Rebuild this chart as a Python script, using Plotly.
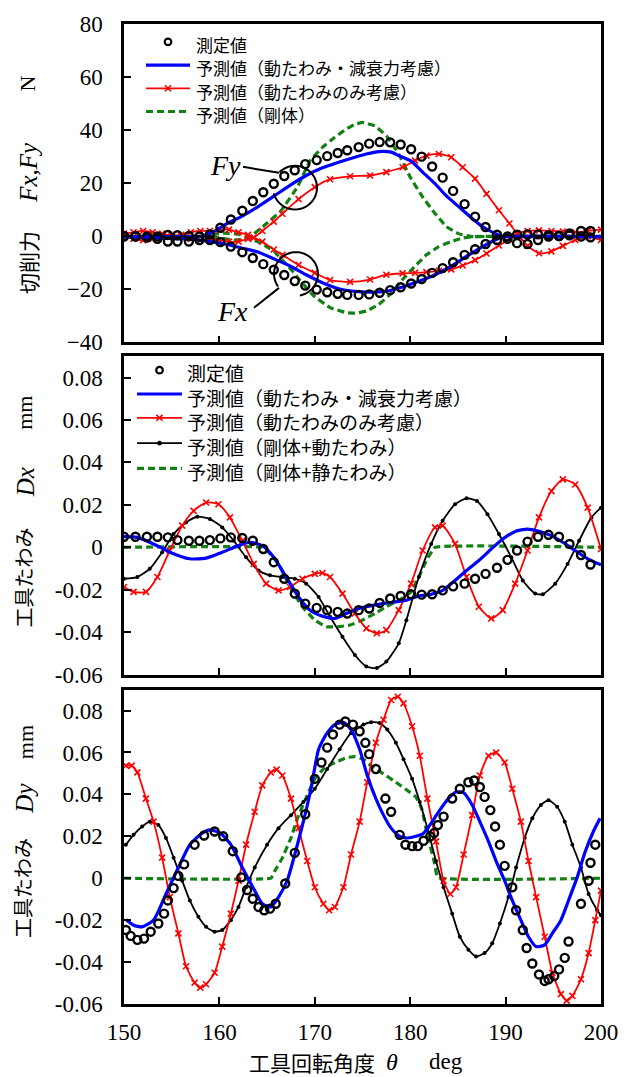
import math
import plotly.graph_objects as go

# ---------------- data: panel 1 (cutting force, N) ----------------
theta_meas_F = [150.0,151.2,152.4,153.5,154.6,155.6,156.8,157.9,159.0,160.1,161.2,162.4,163.5,164.6,165.7,
                166.8,167.9,169.0,170.2,171.3,172.4,173.4,174.6,175.7,176.8,177.9,179.0,180.1,181.2,182.3,
                183.4,184.5,185.7,186.8,187.9,189.1,190.2,191.2,192.3,193.4,194.5,195.6,196.7,197.9,198.9]
Fy_meas = [0.1,0.1,-0.1,-0.1,0.5,0.4,0.1,-0.1,0.7,3.2,6.3,9.6,13.3,16.6,19.8,22.7,24.9,27.2,28.7,30.2,
           31.4,32.4,33.6,34.9,35.5,35.4,34.6,32.8,30.0,26.3,22.1,17.1,12.1,7.4,3.5,0.6,-0.1,0.6,0.7,0.7,
           0.4,0.1,1.1,2.0,2.0]
Fx_meas = [-0.1,-0.1,-0.5,-1.0,-2.0,-2.0,-2.0,-1.4,-1.4,-2.2,-3.9,-6.0,-8.2,-10.5,-12.6,-14.6,-16.9,-18.6,
           -20.1,-21.1,-21.7,-22.1,-22.1,-21.9,-21.3,-20.3,-19.2,-17.8,-16.1,-13.8,-12.0,-9.8,-7.0,-4.9,-2.9,
           -1.4,-1.0,-2.6,-2.9,-1.4,-0.1,0.1,0.4,-0.1,-0.4]

theta_blue_Fy = [150,154.0,158.2,159.4,160.7,162.4,164.1,165.7,167.4,169.1,170.8,172.5,174.2,175.4,176.7,
                 178.0,178.8,180.1,181.3,182.6,183.8,185.1,186.4,187.6,188.9,189.7,191.8,200]
Fy_blue = [-0.1,-0.1,0.1,1.7,4.6,7.6,11.3,15.1,19.2,22.9,25.8,27.9,29.8,31.0,31.9,31.7,30.4,28.3,24.2,19.8,
           15.2,11.1,7.0,3.6,1.1,-0.1,-0.1,-0.1]
theta_blue_Fx = [150,154.0,157.3,159.0,160.7,162.4,164.1,165.7,167.4,169.1,170.8,172.5,174.2,175.8,177.5,
                 179.2,180.9,182.6,184.3,185.9,187.6,189.3,190.2,200]
Fx_blue = [-0.1,-0.7,-1.2,-2.0,-3.0,-4.5,-6.0,-8.5,-11.2,-14.5,-17.5,-19.8,-20.8,-21.1,-20.7,-19.1,-17.0,
           -14.5,-11.3,-7.6,-3.9,-0.7,-0.1,-0.1]

theta_red_F = [150,151,152,153,154,155,156,157,158,159,160,161,162,163,163.6,164.5,165.7,166.6,168.3,170.0,
               171.6,173.7,175.8,177.5,179.2,180.5,181.7,183.0,184.3,185.5,186.8,188.0,189.3,190.4,191.2,
               192.3,193.5,194.8,196.0,197.3,198.6,200]
Fy_red = [0.5,-1,-1.5,-1,0,0.5,0,-1,-1.5,-1,-1.5,-2,-2,-1,-0.5,2,5.5,8.5,14,18.5,21.5,22.6,22.9,24.2,26,28.5,
          30.4,31,29.8,26,21.7,16,9.8,4.8,1.1,-3.6,-6.4,-5.7,-3.6,-1.4,-0.1,-1.4]
Fx_red = [1,1.5,2,1.5,1,0,0.5,1.5,2,2,2.5,2.5,1.5,0.5,-0.5,-2,-5,-7,-10.8,-13.8,-16.5,-17.2,-16.3,-14.5,-14,
          -13.8,-13.5,-13,-12.5,-11,-9,-6.5,-3.5,-1,1,2,2.2,2,1.8,1.5,2,2.5]

theta_green_Fy = [150,158,160,161.5,163,164,165,166.4,168.2,169.5,170.8,172.1,173.3,174.2,175.0,176.3,177.5,
                  178.8,180.0,181.3,182.6,183.8,185.1,186.4,190,200]
Fy_green = [0,0,-0.5,-1.5,-0.6,2,5,9.3,18.7,28.5,33.5,37.3,40.4,42.2,42.9,41.6,37.9,31,22.3,14.8,8.6,3.6,0.9,
            -0.1,0,0]
theta_green_Fx = [150,158,160.5,162,163,164,165,165.7,166.6,167.8,168.3,169.9,171.6,173.3,174.2,175.4,176.7,
                  177.9,179.2,180.5,181.7,183.0,184.3,185.5,186.8,200]
Fx_green = [0,0,1.2,0.8,-0.6,-2,-4,-5.6,-9,-13.7,-16,-22.5,-26.9,-28.8,-29,-28.2,-25.7,-21.9,-16.3,-11.3,-7,
            -3.9,-2,-0.7,-0.1,0]

# ---------------- data: panel 2 (tool deflection Dx, mm) ----------------
theta_meas_Dx = theta_meas_F
Dx_meas = [0.0050,0.0050,0.0050,0.0050,0.0047,0.0034,0.0031,0.0031,0.0034,0.0042,0.0047,0.0044,0.0031,-0.0008,
           -0.0070,-0.0148,-0.0218,-0.0265,-0.0285,-0.0296,-0.0304,-0.0312,-0.0296,-0.0288,-0.0262,-0.0241,
           -0.0229,-0.0221,-0.0223,-0.0221,-0.0203,-0.0184,-0.0171,-0.0148,-0.0125,-0.0096,-0.0059,-0.0015,
           0.0027,0.0050,0.0059,0.0050,0.0016,-0.0036,-0.0081]
theta_blue_Dx = [150,151.4,153.1,154.8,156.9,158.6,160.3,162.0,163.2,164.5,165.7,167.0,168.3,169.5,170.8,
                 172.1,173.3,174.6,175.8,177.1,178.4,179.6,180.9,182.2,183.4,184.7,185.9,187.2,188.5,189.7,
                 191.0,192.3,193.5,194.8,196.0,197.3,198.6,200]
Dx_blue = [0.0050,0.0047,0.0016,-0.0023,-0.0054,-0.0051,-0.0023,0.0008,0.0024,0.0008,-0.0047,-0.0140,-0.0234,
           -0.0296,-0.0324,-0.0335,-0.0312,-0.0288,-0.0276,-0.0265,-0.0257,-0.0249,-0.0229,-0.0221,-0.0203,
           -0.0156,-0.0109,-0.0062,-0.0008,0.0039,0.0075,0.0086,0.0075,0.0055,0.0024,-0.0015,-0.0054,-0.0082]
theta_red_Dx = [150,151.0,152.3,153.5,154.8,156.1,157.3,158.6,159.9,161.1,162.4,163.6,164.9,166.2,167.4,
                168.7,170.0,170.8,171.6,172.9,174.2,175.4,176.5,177.5,178.8,180.1,181.3,182.6,183.4,184.7,
                185.9,187.2,188.5,189.7,191.0,192.3,193.5,194.8,196.0,197.3,198.6,200]
Dx_red = [-0.0187,-0.0210,-0.0210,-0.0140,-0.0015,0.0102,0.0172,0.0211,0.0203,0.0141,0.0031,-0.0078,-0.0171,
          -0.0203,-0.0187,-0.0148,-0.0125,-0.0121,-0.0140,-0.0218,-0.0312,-0.0382,-0.0405,-0.0390,-0.0296,
          -0.0171,-0.0015,0.0094,0.0102,0.0016,-0.0140,-0.0280,-0.0335,-0.0296,-0.0171,-0.0015,0.0141,0.0265,
          0.0320,0.0296,0.0187,-0.0008]
theta_black_Dx = [150,151.4,152.7,154.0,155.2,156.5,157.7,159.0,160.3,161.5,162.8,164.1,165.3,166.6,167.9,
                  169.1,170.4,171.6,172.9,174.2,175.4,176.5,177.5,178.8,179.6,180.9,182.2,183.4,184.7,185.9,
                  187.0,188.1,189.3,190.6,191.8,193.1,193.9,195.2,196.5,197.7,199.0,200]
Dx_black = [-0.0148,-0.0140,-0.0101,-0.0023,0.0063,0.0117,0.0144,0.0133,0.0094,0.0031,-0.0047,-0.0109,-0.0132,
            -0.0140,-0.0148,-0.0171,-0.0234,-0.0327,-0.0421,-0.0507,-0.0561,-0.0569,-0.0538,-0.0452,-0.0343,
            -0.0140,0.0016,0.0125,0.0203,0.0231,0.0218,0.0156,0.0063,-0.0047,-0.0156,-0.0218,-0.0221,-0.0171,
            -0.0078,0.0031,0.0141,0.0187]
theta_green_Dx = [150,164.5,165.3,166.2,167.4,168.7,170.0,171.2,172.5,173.7,175.0,176.3,177.5,178.8,180.1,
                  180.9,181.7,182.6,200]
Dx_green = [0,0,-0.0030,-0.0078,-0.0187,-0.0280,-0.0343,-0.0374,-0.0374,-0.0366,-0.0343,-0.0312,-0.0280,
            -0.0249,-0.0210,-0.0140,-0.0062,0,0]

# ---------------- data: panel 3 (tool deflection Dy, mm) ----------------
theta_meas_Dy = [150.2,150.7,151.4,152.1,152.8,153.6,154.2,154.6,155.2,155.7,156.3,157.4,158.4,159.5,160.4,
                 161.4,162.3,162.9,163.5,164.1,164.7,165.3,165.9,166.9,167.9,169.0,170.0,170.7,171.3,171.9,
                 172.6,173.2,174.0,174.7,175.3,175.7,176.4,177.4,178.0,178.9,179.5,180.2,180.8,181.4,182.1,
                 182.5,182.9,183.5,184.4,185.2,186.1,186.7,187.3,187.8,188.4,188.9,189.4,189.9,190.7,191.1,
                 191.8,192.2,192.8,193.5,194.1,194.5,195.1,195.6,196.2,196.6,197.9,198.7,198.9,199.4]
Dy_meas = [-0.0247,-0.0275,-0.0294,-0.0288,-0.0255,-0.0216,-0.0169,-0.0106,-0.0047,0.0011,0.0066,0.016,0.0204,
           0.0223,0.0200,0.0129,0.0004,-0.0056,-0.0098,-0.0137,-0.0153,-0.0145,-0.0122,-0.0025,0.0121,0.0305,
           0.0474,0.0552,0.0623,0.0686,0.0733,0.0748,0.0733,0.0701,0.0646,0.0592,0.0521,0.038,0.0317,0.0207,
           0.016,0.0153,0.0153,0.0179,0.02,0.0215,0.0254,0.0294,0.038,0.0427,0.0458,0.0466,0.0435,0.0388,
           0.0325,0.0247,0.016,0.0059,-0.0043,-0.0153,-0.0247,-0.0333,-0.0407,-0.0459,-0.049,-0.0482,-0.0467,
           -0.0435,-0.038,-0.0302,-0.0122,-0.0012,0.0074,0.016]
theta_blue_Dy = [150.2,151.0,151.9,153.1,154.4,155.7,156.9,158.2,159.0,160.1,161.2,162.4,163.7,164.5,165.4,
                 166.2,167.1,167.9,168.8,169.6,170.4,171.3,172.1,173.0,173.8,174.7,175.5,176.4,177.2,178.0,
                 178.9,179.7,180.6,181.4,182.3,183.1,184.0,184.8,185.6,186.5,187.3,188.2,189.0,189.9,190.7,
                 191.6,192.4,193.2,194.1,194.9,195.8,196.6,197.5,198.3,199.2,199.9]
Dy_blue = [-0.0197,-0.0224,-0.0232,-0.0200,-0.0075,0.0051,0.016,0.0215,0.0231,0.0215,0.016,0.0051,-0.0059,
           -0.0122,-0.0137,-0.0090,-0.0012,0.0113,0.027,0.0427,0.0615,0.0693,0.0733,0.0744,0.0709,0.0615,
           0.049,0.038,0.0301,0.0239,0.02,0.0192,0.02,0.0215,0.027,0.0325,0.038,0.0411,0.0408,0.0349,0.027,
           0.0176,0.0082,-0.0012,-0.0106,-0.02,-0.0279,-0.0326,-0.0318,-0.0263,-0.02,-0.0106,0.0004,0.0121,
           0.0223,0.0286]
theta_red_Dy = [150.2,150.8,151.4,152.3,153.1,154.0,154.8,155.7,156.5,157.4,158.0,158.6,159.5,160.3,161.2,
                162.0,162.8,163.7,164.5,165.4,166.0,166.6,167.5,168.3,169.2,170.0,170.9,171.5,172.1,173.0,
                173.8,174.7,175.5,176.4,177.2,178.0,178.7,179.3,180.2,181.0,181.8,182.7,183.5,184.2,184.8,
                185.6,186.5,187.3,188.2,189.0,189.9,190.7,191.6,192.4,193.2,194.1,194.9,195.8,196.4,197.0,
                197.9,198.7,199.4,200]
Dy_red = [0.0537,0.0537,0.0505,0.038,0.027,0.0098,-0.0090,-0.0263,-0.042,-0.0498,-0.0522,-0.0506,-0.0451,
          -0.0326,-0.0169,-0.0012,0.016,0.0317,0.0443,0.0505,0.0518,0.049,0.038,0.0239,0.0082,-0.0043,-0.0122,
          -0.0153,-0.0137,-0.0043,0.0113,0.027,0.0458,0.0646,0.0756,0.085,0.0866,0.0834,0.0725,0.0584,0.038,
          0.0176,-0.0012,-0.0075,-0.0043,0.0113,0.0301,0.049,0.0584,0.0599,0.0552,0.0427,0.027,0.0082,-0.009,
          -0.0279,-0.0451,-0.0553,-0.0584,-0.0561,-0.0482,-0.0357,-0.02,-0.0059]
theta_black_Dy = [150.2,151.0,151.9,152.7,153.6,154.4,155.2,156.1,156.9,157.8,158.6,159.5,160.3,161.2,162.0,
                  162.8,163.7,165.0,166.2,167.5,168.8,170.0,171.3,172.6,173.8,175.1,175.9,176.8,177.6,178.5,
                  179.3,180.2,181.0,181.8,182.7,183.5,184.4,185.2,186.1,186.9,187.8,188.6,189.4,190.3,191.1,
                  192.0,192.8,193.7,194.5,195.4,196.2,197.0,197.9,198.7,199.6,200]
Dy_black = [0.016,0.0207,0.0247,0.027,0.0254,0.0192,0.0098,-0.0012,-0.0106,-0.0184,-0.0232,-0.0255,-0.0247,
            -0.02,-0.0137,-0.0043,0.0051,0.016,0.0239,0.0301,0.0364,0.0427,0.0521,0.0615,0.0693,0.0733,0.0744,
            0.074,0.0709,0.0646,0.0568,0.0474,0.0364,0.0239,0.0082,-0.0043,-0.0169,-0.0279,-0.0341,-0.0373,
            -0.0357,-0.031,-0.0216,-0.009,0.0051,0.0192,0.0286,0.0349,0.0372,0.0341,0.027,0.016,0.0051,-0.0075,
            -0.0153,-0.0177]
theta_green_Dy = [150,165.4,165.8,166.6,167.5,168.3,169.2,170.0,170.9,172.1,173.4,174.2,175.1,175.9,177.2,
                  178.5,179.7,180.6,181.2,181.8,182.5,182.9,200]
Dy_green = [0,0,0.0034,0.0097,0.0192,0.0301,0.0395,0.0474,0.0521,0.0552,0.0576,0.058,0.0568,0.0537,0.0498,
            0.0458,0.0419,0.0388,0.0333,0.0207,0.0082,0.0003,0]

x_ticks = [150, 160, 170, 180, 190, 200]
F_ticks = [-40, -20, 0, 20, 40, 60, 80]
D_ticks = [-0.06, -0.04, -0.02, 0, 0.02, 0.04, 0.06, 0.08]
D_tick_text = ["-0.06", "-0.04", "-0.02", "0", "0.02", "0.04", "0.06", "0.08"]

lbl_meas = "測定値"
lbl_blue = "予測値（動たわみ・減衰力考慮）"
lbl_red = "予測値（動たわみのみ考慮）"
lbl_green1 = "予測値（剛体）"
lbl_black = "予測値（剛体+動たわみ）"
lbl_green2 = "予測値（剛体+静たわみ）"

# ---------------- styling ----------------
BLUE = "#0000ff"
RED = "#ff0000"
GREEN = "#138013"
BLACK = "#000000"
SERIF = "Liberation Serif"
JP = "Noto Sans CJK JP"
GDASH = "7px,4px"

fig = go.Figure()


def circ(xs, ys, ax, name):
    fig.add_trace(go.Scatter(x=xs, y=ys, mode="markers", name=name, showlegend=False,
                             xaxis="x" + ax, yaxis="y" + ax,
                             marker=dict(symbol="circle-open", size=8, color=BLACK, line=dict(width=2.4))))


def blue(xs, ys, ax, name):
    fig.add_trace(go.Scatter(x=xs, y=ys, mode="lines", name=name, showlegend=False,
                             xaxis="x" + ax, yaxis="y" + ax,
                             line=dict(color=BLUE, width=3.2, shape="spline", smoothing=0.6)))


def red(xs, ys, ax, name):
    fig.add_trace(go.Scatter(x=xs, y=ys, mode="lines+markers", name=name, showlegend=False,
                             xaxis="x" + ax, yaxis="y" + ax,
                             line=dict(color=RED, width=1.8, shape="spline", smoothing=0.6),
                             marker=dict(symbol="x-thin", size=6, color=RED, line=dict(width=1.6, color=RED))))


def black(xs, ys, ax, name):
    fig.add_trace(go.Scatter(x=xs, y=ys, mode="lines+markers", name=name, showlegend=False,
                             xaxis="x" + ax, yaxis="y" + ax,
                             line=dict(color=BLACK, width=1.8, shape="spline", smoothing=0.6),
                             marker=dict(symbol="circle", size=4, color=BLACK)))


def green(xs, ys, ax, name):
    fig.add_trace(go.Scatter(x=xs, y=ys, mode="lines", name=name, showlegend=False,
                             xaxis="x" + ax, yaxis="y" + ax,
                             line=dict(color=GREEN, width=3.2, dash=GDASH, shape="spline", smoothing=0.25)))


# panel 1
green(theta_green_Fy, Fy_green, "", lbl_green1)
green(theta_green_Fx, Fx_green, "", lbl_green1)
red(theta_red_F, Fy_red, "", lbl_red)
red(theta_red_F, Fx_red, "", lbl_red)
blue(theta_blue_Fy, Fy_blue, "", lbl_blue)
blue(theta_blue_Fx, Fx_blue, "", lbl_blue)
circ(theta_meas_F, Fy_meas, "", lbl_meas)
circ(theta_meas_F, Fx_meas, "", lbl_meas)

# panel 2
green(theta_green_Dx, Dx_green, "2", lbl_green2)
black(theta_black_Dx, Dx_black, "2", lbl_black)
red(theta_red_Dx, Dx_red, "2", lbl_red)
blue(theta_blue_Dx, Dx_blue, "2", lbl_blue)
circ(theta_meas_Dx, Dx_meas, "2", lbl_meas)

# panel 3
green(theta_green_Dy, Dy_green, "3", lbl_green2)
black(theta_black_Dy, Dy_black, "3", lbl_black)
red(theta_red_Dy, Dy_red, "3", lbl_red)
blue(theta_blue_Dy, Dy_blue, "3", lbl_blue)
circ(theta_meas_Dy, Dy_meas, "3", lbl_meas)

# ---------------- layout ----------------
W, H = 633, 1077
L, R, T, B = 124, 32, 16, 73
PW, PH = W - L - R, H - T - B


def py(p):  # pixel y -> paper y
    return (H - B - p) / PH


def px(p):
    return (p - L) / PW


tickfont = dict(family=SERIF, size=23, color=BLACK)
axis_common = dict(showline=True, linewidth=2.5, linecolor=BLACK, mirror=True, ticks="inside", ticklen=7,
                   tickwidth=2, tickcolor=BLACK, showgrid=False, zeroline=False, tickfont=tickfont)

xax = dict(range=[150, 200], tickvals=x_ticks, **axis_common)
fig.update_layout(
    width=W, height=H, margin=dict(l=L, r=R, t=T, b=B), paper_bgcolor="white", plot_bgcolor="white",
    font=dict(family=JP, color=BLACK), showlegend=False,
    xaxis=dict(anchor="y", showticklabels=False, **xax),
    xaxis2=dict(anchor="y2", matches="x", showticklabels=False, **xax),
    xaxis3=dict(anchor="y3", matches="x", ticklabelstandoff=6, **xax),
    yaxis=dict(domain=[py(337), 1.0], range=[-40, 80], tickvals=F_ticks, ticklabelstandoff=14, **axis_common),
    yaxis2=dict(domain=[py(672), py(351)], range=[-0.06, 0.09], tickvals=D_ticks, ticktext=D_tick_text,
                ticklabelstandoff=14, **axis_common),
    yaxis3=dict(domain=[0, py(687)], range=[-0.06, 0.09], tickvals=D_ticks, ticktext=D_tick_text,
                ticklabelstandoff=14, **axis_common),
)

ann = []
shapes = []


def text(x, y, s, size, family=JP, angle=0, italic=False, anchor="center", align="center"):
    if italic:
        s = "<i>" + s + "</i>"
    ann.append(dict(x=px(x), y=py(y), xref="paper", yref="paper", text=s, showarrow=False, textangle=angle,
                    xanchor=anchor, yanchor="middle", align=align,
                    font=dict(family=family, size=size, color=BLACK)))


def seg(x0, y0, x1, y1, color=BLACK, width=2, dash=None):
    ln = dict(color=color, width=width)
    if dash:
        ln["dash"] = dash
    shapes.append(dict(type="line", xref="paper", yref="paper", x0=px(x0), y0=py(y0), x1=px(x1), y1=py(y1),
                       line=ln))


def dot(cx, cy, r, fill, lw):
    shapes.append(dict(type="circle", xref="paper", yref="paper", x0=px(cx - r), x1=px(cx + r),
                       y0=py(cy + r), y1=py(cy - r), fillcolor=fill,
                       line=dict(color=BLACK, width=lw)))


def arc(cx, cy, r, a0, a1):
    pts = []
    n = 40
    for i in range(n + 1):
        a = math.radians(a0 + (a1 - a0) * i / n)
        pts.append((px(cx + r * math.cos(a)), py(cy - r * math.sin(a))))
    path = "M " + " L ".join(f"{x:.5f},{y:.5f}" for x, y in pts)
    shapes.append(dict(type="path", xref="paper", yref="paper", path=path, line=dict(color=BLACK, width=2)))


# ---- legends: keys drawn as shapes, labels as one multi-line text block ----
def legend_block(x0, x1, xt, entries, line_size, glyph_size, yc):
    xm = (x0 + x1) / 2
    labels = []
    for kind, label, ysym in entries:
        if kind == "meas":
            dot(xm, ysym, 3.3, "rgba(0,0,0,0)", 2.2)
        elif kind == "blue":
            seg(x0, ysym, x1, ysym, BLUE, 3.2)
        elif kind == "red":
            seg(x0, ysym, x1, ysym, RED, 1.8)
            seg(xm - 3, ysym - 3, xm + 3, ysym + 3, RED, 1.6)
            seg(xm - 3, ysym + 3, xm + 3, ysym - 3, RED, 1.6)
        elif kind == "black":
            seg(x0, ysym, x1, ysym, BLACK, 1.8)
            dot(xm, ysym, 2.2, BLACK, 0.5)
        elif kind == "green":
            seg(x0, ysym, x1, ysym, GREEN, 3.2, GDASH)
        if glyph_size != line_size:
            label = f"<span style='font-size:{glyph_size}px'>{label}</span>"
        labels.append(label)
    text(xt, yc, "<br>".join(labels), line_size, anchor="left", align="left")


legend_block(146, 190, 194, [("meas", lbl_meas, 34), ("blue", lbl_blue, 57.4),
                             ("red", lbl_red, 80.8), ("green", lbl_green1, 104.2)], 18, 17, 72)
legend_block(137, 182, 185, [("meas", lbl_meas, 365), ("blue", lbl_blue, 389),
                             ("red", lbl_red, 413), ("black", lbl_black, 438.5),
                             ("green", lbl_green2, 464)], 19, 19, 417.5)

# y titles
text(28, 257, "切削力", 21, angle=-90)
text(29, 166, "Fx,Fy", 25, family=SERIF, angle=-90, italic=True)
text(28, 76, "N", 22, family=SERIF, angle=-90)
text(23, 574, "工具たわみ", 20, angle=-90)
text(25, 478, "Dx", 25, family=SERIF, angle=-90, italic=True)
text(25, 408, "mm", 22, family=SERIF, angle=-90)
text(23, 887, "工具たわみ", 20, angle=-90)
text(25, 797, "Dy", 25, family=SERIF, angle=-90, italic=True)
text(25, 740, "mm", 22, family=SERIF, angle=-90)
# x title
text(312, 1062, "工具回転角度", 21)
text(392, 1062, "θ", 24, family=SERIF, italic=True)
text(446, 1062, "deg", 23, family=SERIF)
# Fx / Fy labels
text(225, 159, "Fy", 28, family=SERIF, italic=True)
text(232, 306, "Fx", 28, family=SERIF, italic=True)

seg(243, 160, 279, 166)
arc(295, 181, 22, 135, -165)
seg(254, 302, 279, 282)
arc(296, 268, 22, 215, -80)

fig.update_layout(annotations=ann, shapes=shapes)

fig.write_html("out.html", config={"displayModeBar": False},
               post_script="document.body.style.margin='0px';document.body.style.padding='0px';")
